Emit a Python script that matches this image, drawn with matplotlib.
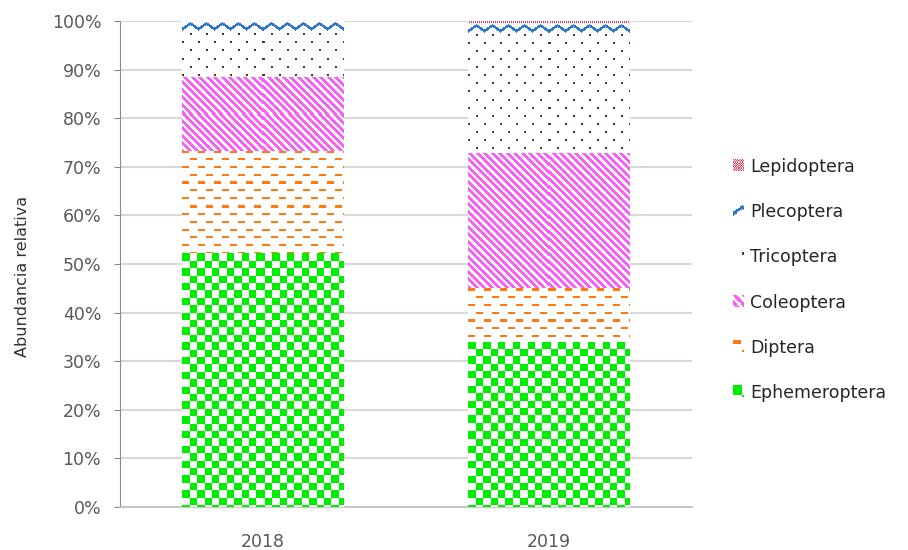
import numpy as np
import matplotlib
matplotlib.use("Agg")
import matplotlib.pyplot as plt
from matplotlib.colors import to_rgba
from matplotlib.patches import Patch
from matplotlib.legend_handler import HandlerBase
from matplotlib.image import BboxImage
from matplotlib.transforms import Bbox, TransformedBbox

plt.rcParams['font.family'] = ['DejaVu Sans']

# data (percent of total per year)
years = ["2018", "2019"]
series_names = ["Ephemeroptera", "Diptera", "Coleoptera", "Tricoptera", "Plecoptera", "Lepidoptera"]
ephemeroptera = [52.2, 34.0]
diptera = [21.0, 11.1]
coleoptera = [15.3, 27.7]
tricoptera = [9.3, 24.7]
plecoptera = [2.2, 2.0]
lepidoptera = [0.0, 0.5]
values = [ephemeroptera, diptera, coleoptera, tricoptera, plecoptera, lepidoptera]

colors = {
    "Ephemeroptera": "#00EE00",
    "Diptera": "#FF7A0A",
    "Coleoptera": "#FF5CFF",
    "Tricoptera": "#6E2C14",
    "Plecoptera": "#2E78D2",
    "Lepidoptera": "#FF3350",
}


def pattern(name, h, w):
    # excel-like pattern fill, built pixel by pixel
    yy, xx = np.mgrid[0:h, 0:w]
    if name == "Ephemeroptera":
        s = 7.4
        mask = ((np.floor(xx / s) + np.floor(yy / s)) % 2) == 0
    elif name == "Diptera":
        row = np.floor(yy / 7.7)
        off = (row % 2) * 8
        mask = ((yy % 7.7) < 2.2) & (((xx + off) % 16) < 7)
    elif name == "Coleoptera":
        mask = ((xx - yy) % 7.5) < 3.8
    elif name == "Tricoptera":
        row = np.floor((yy + 6) / 8)
        off = (row % 2) * 8
        mask = (((yy + 6) % 8) < 2) & (((xx + off) % 16) < 2)
    elif name == "Plecoptera":
        t = (xx % 16) / 16.0
        yc = 2 + 5.5 * np.abs(2 * t - 1)
        mask = np.abs((yy % 15) - yc) < 1.6
    else:
        mask = ((xx + yy) % 2) == 0
    img = np.ones((h, w, 4))
    img[mask] = to_rgba(colors[name])
    return img


class HandlerTile(HandlerBase):
    def __init__(self, tile):
        super().__init__()
        self.tile = tile

    def create_artists(self, legend, orig_handle, xdescent, ydescent,
                       width, height, fontsize, trans):
        bb = Bbox.from_bounds(-xdescent, -ydescent, width, height)
        img = BboxImage(TransformedBbox(bb, trans), interpolation='nearest')
        img.set_data(self.tile)
        return [img]


fig = plt.figure(figsize=(9.08, 5.5), dpi=100)
ax = fig.add_axes([120 / 908, 43 / 550, 572 / 908, 486 / 550])

x = np.arange(len(years))
bar_w = 0.563
px_x = 572 / 2.0
px_y = 486 / 100.0

bottom = np.zeros(len(years))
for name, vals in zip(series_names, values):
    bars = ax.bar(x, vals, bar_w, bottom=bottom, color="white", edgecolor="none", zorder=2)
    for b in bars:
        if b.get_height() <= 0:
            continue
        hpx = max(1, int(round(b.get_height() * px_y)))
        wpx = int(round(b.get_width() * px_x))
        ax.imshow(pattern(name, hpx, wpx), interpolation='nearest', aspect='auto',
                  extent=(b.get_x(), b.get_x() + b.get_width(),
                          b.get_y(), b.get_y() + b.get_height()), zorder=3)
    bottom += np.array(vals)

ax.set_xlim(-0.5, 1.5)
ax.set_ylim(0, 100)
ax.set_xticks(x)
ax.set_xticklabels(years)
ax.set_yticks(np.arange(0, 101, 10))
ax.set_yticklabels([f"{v}%" for v in range(0, 101, 10)])

ax.grid(axis='y', color="#D9D9D9", linewidth=1.5, zorder=0)
ax.set_axisbelow(True)
for s in ["top", "right"]:
    ax.spines[s].set_visible(False)
ax.spines["left"].set_color("#8C8C8C")
ax.spines["bottom"].set_color("#BFBFBF")
ax.spines["bottom"].set_linewidth(1.2)

ax.tick_params(axis='y', colors="#8C8C8C", labelcolor="#595959", labelsize=12.5, length=4.5, pad=9)
ax.tick_params(axis='x', length=0, labelcolor="#595959", labelsize=12.5, pad=19)

ax.set_ylabel("Abundancia relativa", fontsize=11.5, color="#333333")
ax.yaxis.set_label_coords(-0.158, 0.475)

# legend, reversed order like the original
handles = [Patch(label=n) for n in series_names][::-1]
hmap = {h: HandlerTile(pattern(h.get_label(), 10, 10)) for h in handles}
ax.legend(handles=handles, handler_map=hmap, loc='center left',
          bbox_to_anchor=(733 / 908, 0.491), bbox_transform=fig.transFigure,
          frameon=False, fontsize=12.5, labelcolor="#262626",
          handlelength=0.6, handleheight=0.6, handletextpad=0.4,
          labelspacing=1.57, borderpad=0, borderaxespad=0)

fig.savefig("out.png", dpi=100)
